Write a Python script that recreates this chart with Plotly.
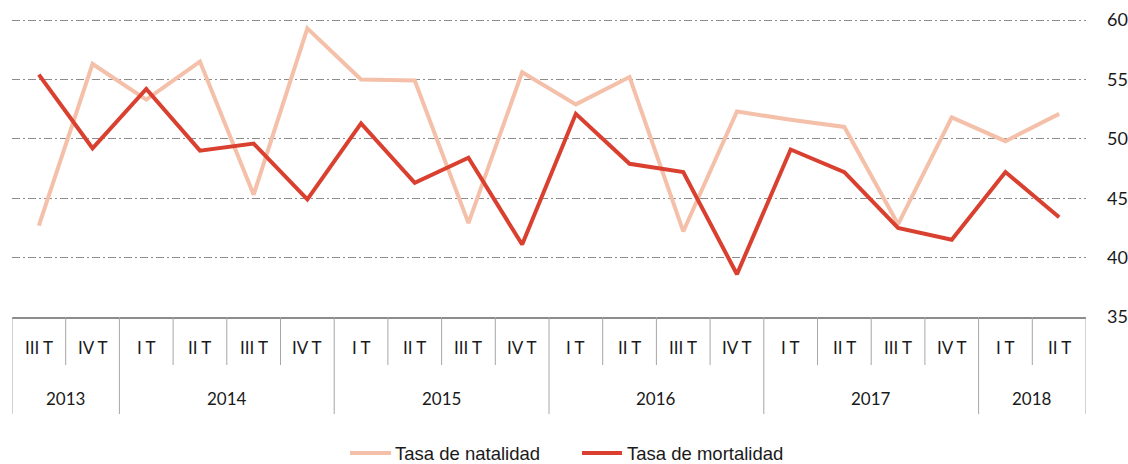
import plotly.graph_objects as go

quarters = ["III T", "IV T", "I T", "II T", "III T", "IV T", "I T", "II T", "III T", "IV T",
            "I T", "II T", "III T", "IV T", "I T", "II T", "III T", "IV T", "I T", "II T"]
years = ["2013", "2013", "2014", "2014", "2014", "2014", "2015", "2015", "2015", "2015",
         "2016", "2016", "2016", "2016", "2017", "2017", "2017", "2017", "2018", "2018"]
natalidad = [42.7, 56.3, 53.3, 56.5, 45.3, 59.3, 55.0, 54.9, 42.9, 55.6,
             52.9, 55.2, 42.2, 52.3, 51.6, 51.0, 42.8, 51.8, 49.8, 52.1]
mortalidad = [55.4, 49.2, 54.2, 49.0, 49.6, 44.9, 51.3, 46.3, 48.4, 41.1,
              52.1, 47.9, 47.2, 38.6, 49.1, 47.2, 42.5, 41.5, 47.2, 43.4]
y_ticks = [35, 40, 45, 50, 55, 60]
series_names = ["Tasa de natalidad", "Tasa de mortalidad"]
colors = ["#F4C0A9", "#D9402F"]

W, H = 1128, 464
ML, MR, MT, MB = 12, 42, 16, 147
PW, PH = W - ML - MR, H - MT - MB
# keep 60 at y=20 px and 35 at y=317 px
px_per_unit = (317 - 20) / (y_ticks[-1] - y_ticks[0])
y_top = y_ticks[-1] + (20 - MT) / px_per_unit


def px_x(p):
    return (p - ML) / PW


def px_y(p):
    return (H - MB - p) / PH


x = list(range(len(quarters)))
fig = go.Figure()
for name, vals, col in zip(series_names, [natalidad, mortalidad], colors):
    fig.add_trace(go.Scatter(x=x, y=vals, mode="lines", name=name,
                             line=dict(color=col, width=4), showlegend=False))

sep_col = "#a6a6a6"
label_font = dict(family="Lato, Open Sans, sans-serif", size=17, color="#1a1a1a")
q_depth = px_y(365)
y_depth = px_y(414)

shapes = []
annotations = []
n = len(quarters)
# quarter separators and labels
for i in range(n + 1):
    xb = i - 0.5
    is_year_edge = i == 0 or i == n or years[i] != years[i - 1]
    shapes.append(dict(type="line", xref="x", yref="paper", x0=xb, x1=xb,
                       y0=0, y1=y_depth if is_year_edge else q_depth,
                       line=dict(color=sep_col, width=1)))
for i, q in enumerate(quarters):
    annotations.append(dict(x=i, y=px_y(348), xref="x", yref="paper", text=q,
                            showarrow=False, font=label_font, xanchor="center", yanchor="middle"))
# year labels
start = 0
for i in range(1, n + 1):
    if i == n or years[i] != years[start]:
        annotations.append(dict(x=(start + i - 1) / 2, y=px_y(398), xref="x", yref="paper",
                                text=years[start], showarrow=False, font=label_font,
                                xanchor="center", yanchor="middle"))
        start = i

# legend (manual)
leg_font = dict(family="Liberation Sans, Arial, sans-serif", size=18.5, color="#1a1a1a")
leg_items = [(350, 391, 393), (582, 622, 625)]
for (lx0, lx1, tx), name, col in zip(leg_items, series_names, colors):
    shapes.append(dict(type="line", xref="paper", yref="paper", x0=px_x(lx0), x1=px_x(lx1),
                       y0=px_y(453), y1=px_y(453), line=dict(color=col, width=4)))
    annotations.append(dict(x=px_x(tx), y=px_y(453), xref="paper", yref="paper", text=name,
                            showarrow=False, font=leg_font, xanchor="left", yanchor="middle"))

fig.update_layout(
    width=W, height=H,
    margin=dict(l=ML, r=MR, t=MT, b=MB, autoexpand=False),
    paper_bgcolor="white", plot_bgcolor="white",
    shapes=shapes, annotations=annotations,
    showlegend=False,
    xaxis=dict(range=[-0.5, n - 0.5], showticklabels=False, showgrid=False, zeroline=False,
               showline=True, linecolor="#8c8c8c", linewidth=1.5, ticks="", automargin=False),
    yaxis=dict(range=[y_ticks[0], y_top], side="right", tickvals=y_ticks, automargin=False,
               showgrid=True, gridcolor="#8c8c8c", gridwidth=1,
               griddash="8px,3px,2px,3px", zeroline=False, showline=False, ticks="",
               ticklabelstandoff=20,
               tickfont=dict(family="Lato, Open Sans, sans-serif", size=18, color="#1a1a1a")),
)
fig.write_html("out.html", config={"displayModeBar": False},
               post_script="document.body.style.margin='0';")
